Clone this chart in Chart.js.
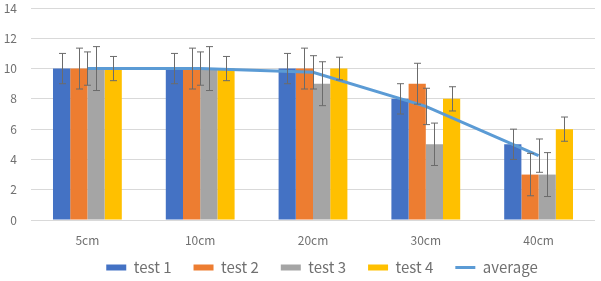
<!DOCTYPE html>
<html>
<head>
<meta charset="utf-8">
<script src="https://cdn.jsdelivr.net/npm/chart.js@4"></script>
<style>
  html, body { margin: 0; padding: 0; background: #fff; }
  #wrap { width: 601px; height: 281px; }
</style>
</head>
<body>
<div id="wrap"><canvas id="chart"></canvas></div>
<script>
// Data
const categories = ['5cm', '10cm', '20cm', '30cm', '40cm'];
const test1 = [10, 10, 10, 8, 5];
const test2 = [10, 10, 10, 9, 3];
const test3 = [10, 10, 9, 5, 3];
const test4 = [10, 10, 10, 8, 6];
const average = [10, 10, 9.75, 7.5, 4.25];

// Error bar half-widths (+/-)
const err1 = [1, 1, 1, 1, 1];
const err2 = [1.35, 1.35, 1.35, 1.35, 1.4];
const err3 = [1.45, 1.45, 1.45, 1.4, 1.45];
const err4 = [0.8, 0.8, 0.75, 0.8, 0.8];
const errAvg = [1.1, 1.1, 1.1, 1.2, 1.1];

const yTicks = [0, 2, 4, 6, 8, 10, 12, 14];

const FONT = '"Noto Sans CJK KR", "Noto Sans", sans-serif';
const TEXT = '#707070';

// Draws vertical error bars with caps, using the library's scales
const errorBars = {
    id: 'errorBars',
    afterDatasetsDraw(chart) {
        const ctx = chart.ctx;
        const y = chart.scales.y;
        ctx.save();
        ctx.strokeStyle = '#6b6b6b';
        ctx.lineWidth = 1;
        chart.data.datasets.forEach((ds, i) => {
            if (!ds.errors) return;
            const meta = chart.getDatasetMeta(i);
            meta.data.forEach((el, j) => {
                const v = ds.data[j];
                const e = ds.errors[j];
                const x = Math.round(el.x) + 0.5;
                const top = y.getPixelForValue(v + e);
                const bot = y.getPixelForValue(v - e);
                ctx.beginPath();
                ctx.moveTo(x, top);
                ctx.lineTo(x, bot);
                ctx.moveTo(x - 3.5, top);
                ctx.lineTo(x + 3.5, top);
                ctx.moveTo(x - 3.5, bot);
                ctx.lineTo(x + 3.5, bot);
                ctx.stroke();
            });
        });
        ctx.restore();
    }
};

// legend sits tighter under the axis labels than Chart.js would put it
const legendTweak = {
    id: 'legendTweak',
    beforeLayout(chart) {
        const lg = chart.legend;
        if (lg && !lg._tweaked) {
            const fit = lg.fit;
            lg.fit = function () { fit.call(this); this.height -= 14; };
            lg._tweaked = true;
        }
    },
    afterLayout(chart) {
        const lg = chart.legend;
        lg.top -= 10;
        lg.left += 9;
        lg.right += 9;
    }
};

const barDs = (label, data, color, errors) => ({
    type: 'bar',
    label: label,
    data: data,
    errors: errors,
    backgroundColor: color,
    borderWidth: 0,
    pointStyle: 'rect',
    order: 1
});

new Chart(document.getElementById('chart'), {
    type: 'bar',
    data: {
        labels: categories,
        datasets: [
            barDs('test 1', test1, '#4472C4', err1),
            barDs('test 2', test2, '#ED7D31', err2),
            barDs('test 3', test3, '#A5A5A5', err3),
            barDs('test 4', test4, '#FFC000', err4),
            {
                type: 'line',
                label: 'average',
                data: average,
                errors: errAvg,
                borderColor: '#5B9BD5',
                backgroundColor: '#5B9BD5',
                borderWidth: 3,
                pointRadius: 0,
                pointStyle: 'line',
                tension: 0,
                order: 0
            }
        ]
    },
    options: {
        responsive: true,
        maintainAspectRatio: false,
        animation: false,
        layout: { padding: { top: 0, right: 6, left: 0, bottom: 0 } },
        datasets: {
            bar: { categoryPercentage: 0.61, barPercentage: 1 }
        },
        scales: {
            x: {
                grid: { display: false, drawTicks: false },
                border: { display: false },
                afterFit: (scale) => { scale.height = 28; },
                ticks: { color: TEXT, font: { family: FONT, size: 12 }, padding: 13 }
            },
            y: {
                min: 0,
                max: 14,
                afterBuildTicks: (scale) => { scale.ticks = yTicks.map(v => ({ value: v })); },
                afterFit: (scale) => {
                    scale.width = 31;
                    scale.paddingTop = 8;
                    scale.paddingBottom = 0;
                },
                grid: { color: '#d9d9d9', drawTicks: false },
                border: { display: false },
                ticks: { color: TEXT, font: { family: FONT, size: 12 }, padding: 14 }
            }
        },
        plugins: {
            legend: {
                position: 'bottom',
                fullSize: false,
                labels: {
                    color: TEXT,
                    font: { family: FONT, size: 15 },
                    usePointStyle: true,
                    pointStyleWidth: 20,
                    boxHeight: 6,
                    padding: 22,
                    sort: (a, b) => a.datasetIndex - b.datasetIndex
                }
            },
            tooltip: { enabled: false }
        }
    },
    plugins: [errorBars, legendTweak]
});
</script>
</body>
</html>
